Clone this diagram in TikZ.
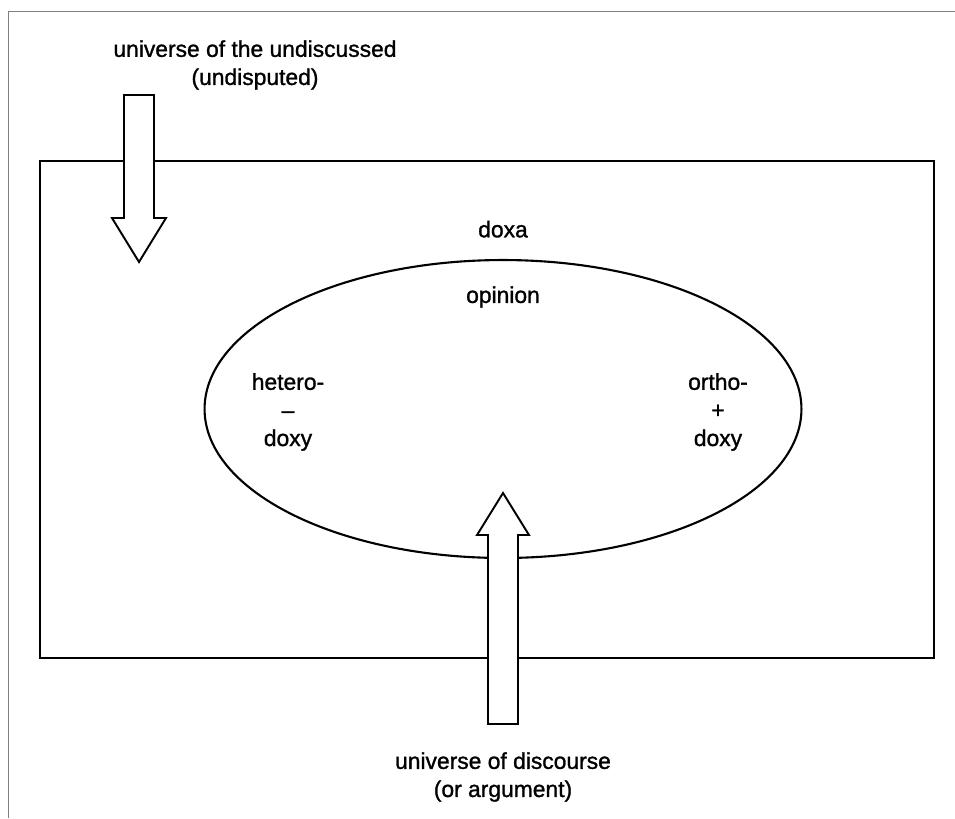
\documentclass[tikz,border=0pt]{standalone}
\usepackage{fontspec}
\setmainfont{Liberation Sans}[FakeBold=1.2]
\usetikzlibrary{positioning}
\usetikzlibrary{shapes.geometric}

\begin{document}
\begin{tikzpicture}[x=0.02cm,y=-0.02cm,
                    every node/.style={font=\fontsize{13}{16}\selectfont},
                    label node/.style={align=center,inner sep=0pt},
                    big arrow/.style={draw,fill=white,line width=1.1pt,line join=miter}]

  \useasboundingbox (0,0) rectangle (955,818);
  \draw[gray,line width=0.5pt] (8,818) |- (955,11);

  % field and doxa
  \draw[line width=1.6pt] (40,161) rectangle (934,658);
  \node[ellipse,draw,line width=1.2pt,minimum width=11.94cm,minimum height=5.96cm,
        inner sep=0pt] (doxa) at (503,409) {};

  % arrows
  \draw[big arrow] (124,95) -- (154,95) -- (154,218) -- (166,218) -- (139,262)
        -- (112,218) -- (124,218) -- cycle;
  \draw[big arrow] (488,724) -- (518,724) -- (518,535) -- (529,535) -- (503,493)
        -- (477,535) -- (488,535) -- cycle;

  % texts
  \node[label node] (undisc) at (255,65) {universe of the undiscussed\\(undisputed)};
  \node[label node] (doxalabel) [above=12pt of doxa.north] {doxa};
  \node[label node] (opinion) at (503,297) {opinion};
  \node[label node] (hetero) at (288,412) {hetero-\\--\\doxy};
  \node[label node] (ortho) at (718,412) {ortho-\\+\\doxy};
  \node[label node] (discourse) at (503,777) {universe of discourse\\(or argument)};
\end{tikzpicture}
\end{document}
